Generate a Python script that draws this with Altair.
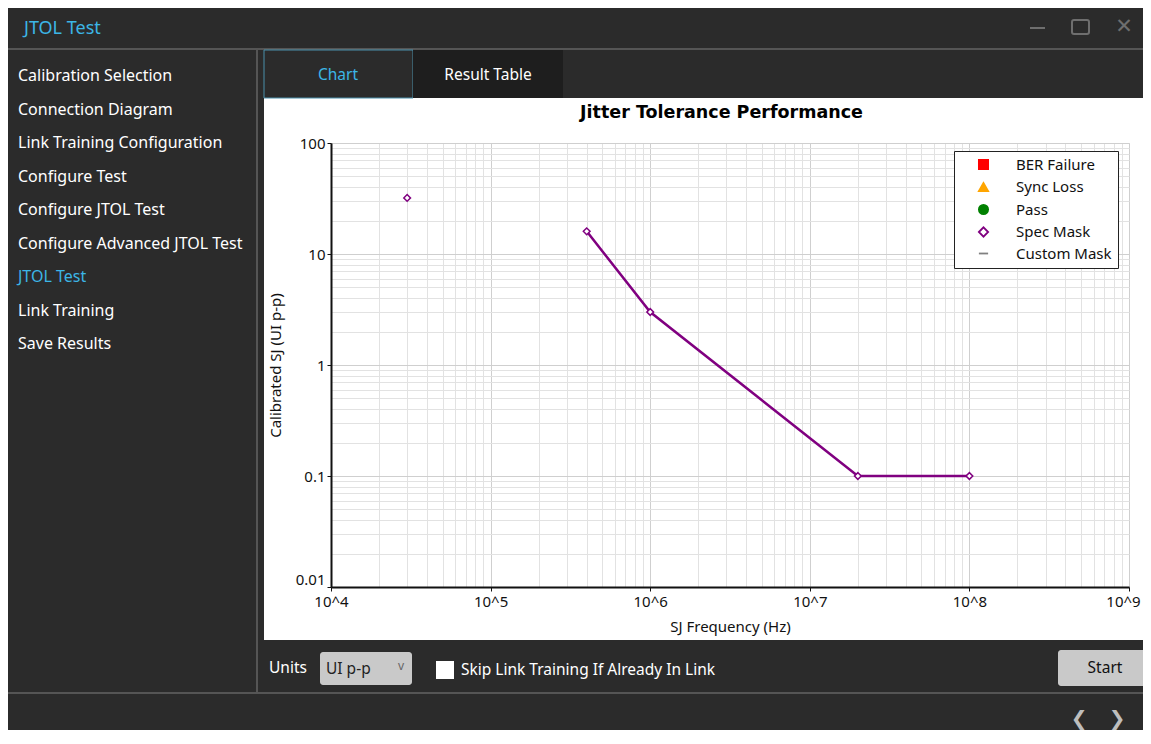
import altair as alt
import pandas as pd

# ---------------- data ----------------
mask_freq = [3e4, 4e5, 1e6, 2e7, 1e8]
mask_sj = [32, 16, 3, 0.1, 0.1]
mask_connected = [False, True, True, True, True]

legend_cats = ["BER Failure", "Sync Loss", "Pass", "Spec Mask", "Custom Mask"]
legend_shapes = ["square", "triangle-up", "circle", "diamond", "stroke"]
legend_fills = ["#ff0000", "#ffa500", "#008000", "#ffffff", "#808080"]
legend_strokes = ["#ff0000", "#ffa500", "#008000", "#800080", "#808080"]

x_grid_values = [k * 10 ** n for n in range(4, 9) for k in range(1, 10)] + [10 ** 9]
y_grid_values = [k * 10.0 ** n for n in range(-2, 2) for k in range(1, 10)] + [100.0]

sidebar_items = ["Calibration Selection", "Connection Diagram", "Link Training Configuration",
                 "Configure Test", "Configure JTOL Test", "Configure Advanced JTOL Test",
                 "JTOL Test", "Link Training", "Save Results"]
active_item = "JTOL Test"

df = pd.DataFrame({"freq": mask_freq, "sj": mask_sj, "connected": mask_connected,
                   "series": ["Spec Mask"] * len(mask_freq)})

# ---------------- layout constants ----------------
W, H = 798, 444
X0, Y0 = 331, 143          # page position of plot origin
UI_FONT = "Segoe UI, Noto Sans, sans-serif"
CH_FONT = "Noto Sans"
DARK = "#2b2b2b"
BLUE = "#3cb6e6"
LINE = "#555555"
ONE = alt.Data(values=[{"a": 1}])

MAJOR = "abs(log(datum.value)/LN10 - round(log(datum.value)/LN10)) < 1e-6"

xscale = alt.Scale(type="log", domain=[1e4, 1e9], nice=False)
yscale = alt.Scale(type="log", domain=[0.01, 100], nice=False)

xaxis = alt.Axis(values=x_grid_values, labelExpr=f"{MAJOR} ? '10^' + round(log(datum.value)/LN10) : ''",
                 labelOverlap=False, labelFlush=False, labelFont=CH_FONT, labelFontSize=15,
                 labelColor="#111", labelPadding=3, tickSize=4,
                 labelOffset={"condition": {"test": "datum.value > 5e8", "value": -6}, "value": 0},
                 tickColor={"condition": {"test": MAJOR, "value": "#111"}, "value": "rgba(0,0,0,0)"},
                 grid=True,
                 gridColor={"condition": {"test": MAJOR, "value": "#cfcfcf"}, "value": "#e2e2e2"},
                 domainColor="#111", domainWidth=2,
                 title="SJ Frequency (Hz)", titleFont=CH_FONT, titleFontSize=15,
                 titleFontWeight="normal", titleColor="#111", titlePadding=10)
yaxis = alt.Axis(values=y_grid_values, labelExpr=f"{MAJOR} ? format(datum.value, '~g') : ''",
                 labelOverlap=False, labelFont=CH_FONT, labelFontSize=15,
                 labelColor="#111", labelPadding=2, tickSize=4,
                 labelOffset={"condition": {"test": "datum.value < 0.011", "value": -8}, "value": 0},
                 tickColor={"condition": {"test": MAJOR, "value": "#111"}, "value": "rgba(0,0,0,0)"},
                 grid=True,
                 gridColor={"condition": {"test": MAJOR, "value": "#cfcfcf"}, "value": "#e2e2e2"},
                 domainColor="#111", domainWidth=2,
                 title="Calibrated SJ (UI p-p)", titleFont=CH_FONT, titleFontSize=15,
                 titleFontWeight="normal", titleColor="#111", titlePadding=12)

xenc = alt.X("freq:Q", scale=xscale, axis=xaxis)
yenc = alt.Y("sj:Q", scale=yscale, axis=yaxis)

leg = alt.Legend(title=None, orient="none", legendX=623, legendY=8, fillColor="white",
                 strokeColor="#222", padding=6, symbolOffset=16, labelOffset=25,
                 labelFont=CH_FONT, labelFontSize=15, labelColor="#111",
                 symbolSize=85, symbolStrokeWidth=1.8, rowPadding=5.5)

line = alt.Chart(df).mark_line(color="#800080", strokeWidth=2.5).encode(
    x=xenc, y=yenc).transform_filter("datum.connected")

points = alt.Chart(df).mark_point(size=45, strokeWidth=1.5, opacity=1).encode(
    x=xenc, y=yenc,
    shape=alt.Shape("series:N", scale=alt.Scale(domain=legend_cats, range=legend_shapes), legend=leg),
    fill=alt.Fill("series:N", scale=alt.Scale(domain=legend_cats, range=legend_fills), legend=leg),
    stroke=alt.Stroke("series:N", scale=alt.Scale(domain=legend_cats, range=legend_strokes), legend=leg),
)


def rect(x1, y1, x2, y2, fill, stroke=None, radius=0, sw=1):
    kw = dict(fill=fill, cornerRadius=radius)
    if stroke:
        kw.update(stroke=stroke, strokeWidth=sw)
    return alt.Chart(ONE).mark_rect(**kw).encode(
        x=alt.value(x1 - X0), x2=alt.value(x2 - X0),
        y=alt.value(y1 - Y0), y2=alt.value(y2 - Y0))


def txt(s, x, y, size=15, color="white", font=UI_FONT, align="left", weight="normal"):
    return alt.Chart(ONE).mark_text(text=s, align=align, baseline="middle", fontSize=size,
                                    font=font, color=color, fontWeight=weight).encode(
        x=alt.value(x - X0), y=alt.value(y - Y0))


chrome = [
    rect(0, 0, 1151, 98, DARK),          # header + tab strip
    rect(0, 98, 264, 744, DARK),         # sidebar
    rect(0, 640, 1151, 744, DARK),       # bottom bar
    rect(0, 48, 1151, 50, LINE),         # header separator
    rect(256, 50, 258, 693, LINE),       # sidebar separator
    rect(0, 692, 1151, 694, LINE),       # bottom separator
    rect(264, 50, 413, 98, DARK, stroke="#4a90ab", sw=1),
    rect(413, 50, 563, 98, "#1e1e1e"),
    rect(320, 652, 412, 685, "#c9c9c9", radius=3),
    rect(436, 661, 454, 679, "#ffffff"),
    rect(1058, 650, 1151, 686, "#c9c9c9", radius=3),
    rect(1072, 20, 1089, 34, "rgba(0,0,0,0)", stroke="#6e6e6e", radius=2, sw=2),
    rect(1030, 27, 1045, 29, "#6e6e6e"),
]

texts = [
    txt("JTOL Test", 24, 29, size=18, color=BLUE),
    txt("Chart", 338, 75, size=15.5, color=BLUE, align="center"),
    txt("Result Table", 488, 75, size=15.5, align="center"),
    txt("Units", 269, 668, size=15.5),
    txt("UI p-p", 326, 669, size=15.5, color="#222"),
    txt("v", 398, 666, size=12, color="#666"),
    txt("Skip Link Training If Already In Link", 461, 670, size=15.5,
        font="Liberation Sans Narrow, Noto Sans, sans-serif"),
    txt("Start", 1105, 668, size=15.5, color="#111", align="center"),
    txt("✕", 1124, 27, size=21, color="#6e6e6e", font="DejaVu Sans", align="center"),
    txt("❮", 1079, 719, size=20, color="#bdbdbd", font="DejaVu Sans", align="center", weight="bold"),
    txt("❯", 1117, 719, size=20, color="#bdbdbd", font="DejaVu Sans", align="center", weight="bold"),
    txt("Jitter Tolerance Performance", 721.5, 113, size=17.5, color="#000",
        font="DejaVu Sans", align="center", weight="bold"),
]
for i, item in enumerate(sidebar_items):
    texts.append(txt(item, 18, 76 + 33.5 * i, size=16,
                     color=BLUE if item == active_item else "white"))

chart = alt.layer(line, points, *chrome, *texts).properties(
    width=W, height=H,
    padding={"left": X0 - 8, "top": Y0 - 8, "right": 14, "bottom": 143},
    autosize=alt.AutoSizeParams(type="none"),
).configure_view(stroke="#1a1a1a", strokeWidth=1.5).configure(background="white")

chart.save("out.html", embed_options={"renderer": "svg", "actions": False})
